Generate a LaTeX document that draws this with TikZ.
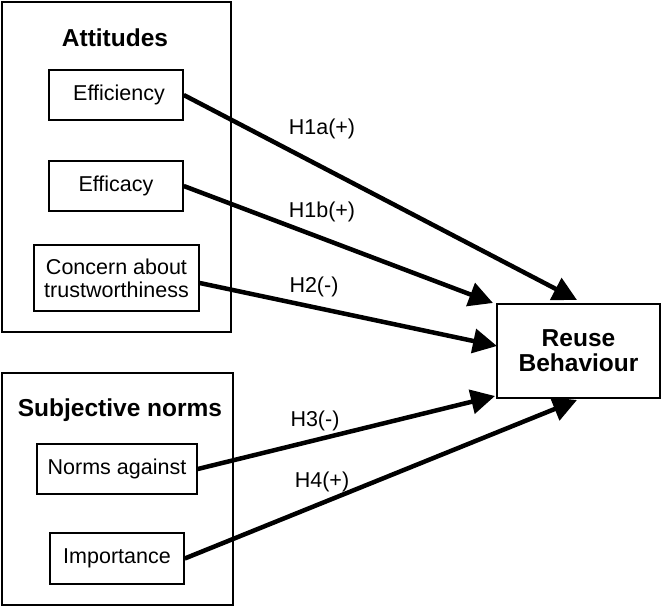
\documentclass[tikz,border=0pt]{standalone}
\usepackage{fontspec}
\setmainfont{Liberation Sans}
\usetikzlibrary{arrows.meta}
\begin{document}
\begin{tikzpicture}[x=1pt,y=-1pt,
  group/.style={draw,line width=2.2pt,inner sep=0pt},
  item/.style={draw,line width=1.5pt,inner sep=0pt,align=center,font=\fontsize{21.5}{23}\selectfont},
  title/.style={font=\fontsize{24.5}{26}\selectfont\bfseries},
  hyp/.style={font=\fontsize{21.5}{23}\selectfont},
  link/.style={line width=4.5pt,-{Triangle[length=24pt,width=24pt]}}]
\useasboundingbox (0,0) rectangle (662,607);
% groups
\node[group,minimum width=229pt,minimum height=330pt] (att) at (116.5,167) {};
\node[group,minimum width=231pt,minimum height=232pt] (sub) at (117.5,489) {};
\node[title] (attT) at (115,38) {Attitudes};
\node[title] (subT) at (120,410) {Subjective norms};
% items
\node[item,minimum width=134pt,minimum height=50pt] (eff) at (116,95) {\hspace*{6pt}Efficiency};
\node[item,minimum width=134pt,minimum height=50pt] (efc) at (116,186) {Efficacy};
\node[item,minimum width=165pt,minimum height=66pt] (con) at (116.5,278) {Concern about\\trustworthiness};
\node[item,minimum width=160pt,minimum height=50pt] (nor) at (117,469) {Norms against};
\node[item,minimum width=134pt,minimum height=51pt] (imp) at (117,558.5) {Importance};
% outcome
\node[draw,line width=1.8pt,minimum width=163pt,minimum height=94pt,align=center,
      font=\fontsize{24.5}{25}\selectfont\bfseries] (reu) at (578.5,351) {Reuse\\Behaviour};
% tip coordinates
\coordinate (t1) at (577,300);
\coordinate (t2) at (493,303);
\coordinate (t3) at (497,346);
\coordinate (t4) at (495,396);
\coordinate (t5) at (577,400);
% connectors
\draw[link] (eff.east) -- (t1);
\draw[link] (efc.east) -- (t2);
\draw[link] (con.east) ++(0,5) coordinate (c3) (c3) -- (t3);
\draw[link] (nor.east) -- (t4);
\draw[link] (imp.east) -- (t5);
% labels
\node[hyp] (h1a) at (322,129) {H1a(+)};
\node[hyp] (h1b) at (322,212) {H1b(+)};
\node[hyp] (h2) at (314,287) {H2(-)};
\node[hyp] (h3) at (315,421) {H3(-)};
\node[hyp] (h4) at (322,482) {H4(+)};
\end{tikzpicture}
\end{document}
